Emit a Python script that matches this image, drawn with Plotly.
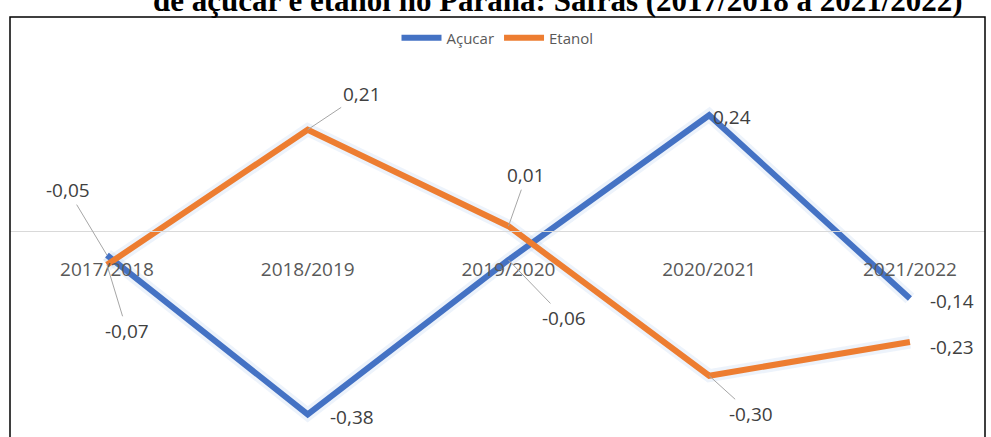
import plotly.graph_objects as go

categories = ["2017/2018", "2018/2019", "2019/2020", "2020/2021", "2021/2022"]
acucar = [-0.05, -0.38, -0.06, 0.24, -0.14]
etanol = [-0.07, 0.21, 0.01, -0.30, -0.23]
acucar_labels = ["-0,05", "-0,38", "-0,06", "0,24", "-0,14"]
etanol_labels = ["-0,07", "0,21", "0,01", "-0,30", "-0,23"]

BLUE = "#4472C4"
ORANGE = "#ED7D31"
TXT = "#595959"
LBL = "#404040"

# label placement: (leader?, dx, dy) in pixels relative to point (dy down positive)
acucar_pos = [(True, -39, -65), (False, 44, 3), (True, 56, 58), (False, 23, 2), (False, 42, 2)]
etanol_pos = [(True, 20, 66), (True, 54, -36), (True, 18, -51), (True, 42, 38), (False, 42, 5)]

fig = go.Figure()
# soft shadow
for vals in (acucar, etanol):
    fig.add_trace(go.Scatter(x=categories, y=vals, mode="lines",
                             line=dict(color="rgba(140,180,230,0.16)", width=13),
                             showlegend=False, hoverinfo="skip"))
fig.add_trace(go.Scatter(x=categories, y=acucar, mode="lines", name="Açucar",
                         line=dict(color=BLUE, width=6)))
fig.add_trace(go.Scatter(x=categories, y=etanol, mode="lines", name="Etanol",
                         line=dict(color=ORANGE, width=6)))

LBL_FONT = dict(family="Open Sans", size=19, color=LBL)
anns = []
for vals, labels, pos in ((acucar, acucar_labels, acucar_pos), (etanol, etanol_labels, etanol_pos)):
    for c, v, t, (lead, dx, dy) in zip(categories, vals, labels, pos):
        if lead:
            anns.append(dict(x=c, y=v, xref="x", yref="y", text=t, showarrow=True,
                             ax=dx, ay=dy, arrowhead=0, arrowwidth=1, arrowcolor="#a6a6a6",
                             standoff=0, font=LBL_FONT))
        else:
            anns.append(dict(x=c, y=v, xref="x", yref="y", text=t, showarrow=False,
                             xshift=dx, yshift=-dy, font=LBL_FONT))

# title (clipped at the top edge, as in the reference)
anns.append(dict(xref="paper", yref="paper", x=0.562, y=1.0959, xanchor="center", yanchor="middle",
                 text="<b>de açúcar e etanol no Paraná: Safras (2017/2018 a 2021/2022)</b>",
                 showarrow=False, font=dict(family="Liberation Serif", size=31, color="black")))

fig.update_layout(
    width=991, height=437,
    margin=dict(l=10, r=6, t=38, b=13),
    paper_bgcolor="white", plot_bgcolor="white",
    annotations=anns,
    legend=dict(orientation="h", x=0.5, xanchor="center", y=1.0, yanchor="middle",
                font=dict(family="Open Sans", size=15, color=TXT), itemwidth=40,
                bgcolor="rgba(0,0,0,0)"),
    xaxis=dict(type="category", range=[-0.483, 4.374], anchor="free", position=0.5,
               showline=True, linecolor="#d9d9d9", linewidth=1, showgrid=False,
               ticks="", ticklabelstandoff=21,
               tickfont=dict(family="Open Sans", size=19, color=TXT)),
    yaxis=dict(range=[-0.4, 0.4], visible=False, showgrid=False, zeroline=False),
    shapes=[dict(type="rect", xref="paper", yref="paper", x0=0, x1=1, y0=-0.2, y1=1.0544,
                 line=dict(color="black", width=1.5), fillcolor="rgba(0,0,0,0)", layer="above")],
)

fig.write_html("out.html")
